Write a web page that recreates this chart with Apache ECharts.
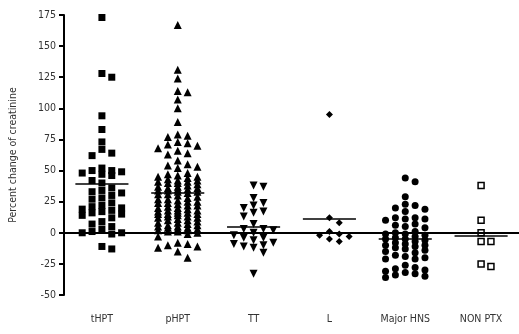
<!DOCTYPE html>
<html>
<head>
<meta charset="utf-8">
<script src="https://cdn.jsdelivr.net/npm/echarts@6/dist/echarts.min.js"></script>
<style>
html, body { margin: 0; background: #fff; }
#chart { width: 519px; height: 334px; }
</style>
</head>
<body>
<div id="chart"></div>
<script>
// group names along the bottom
const categories = ['tHPT', 'pHPT', 'TT', 'L', 'Major HNS', 'NON PTX'];

// percent change of creatinine, one value per patient
const tHPT = [173, 128, 125, 94, 83, 73, 67, 64, 62, 52, 50, 50, 49, 48, 47, 46, 42, 40, 36, 34,
  33, 32, 30, 28, 27, 24, 22, 21, 20, 19, 18, 17, 16, 15, 14, 12, 9, 7, 5, 3, 1, 0, 0, -1, -11, -13];
const pHPT = [167, 131, 124, 114, 113, 107, 100, 89, 79, 78, 77, 73, 72, 71, 70, 68, 66, 64, 63, 58,
  55, 54, 53, 52, 48, 47, 46, 45, 45, 44, 43, 42, 42, 41, 41, 40, 40, 39, 38, 37, 37, 36, 36, 35, 35,
  34, 34, 33, 33, 32, 31, 31, 30, 29, 28, 27, 27, 26, 25, 25, 24, 24, 23, 22, 22, 21, 20, 20, 19, 18,
  18, 18, 17, 16, 16, 15, 15, 15, 14, 13, 13, 12, 12, 11, 10, 10, 9, 8, 8, 7, 6, 6, 5, 5, 4, 4, 3, 3,
  2, 2, 1, 1, 0, -1, -3, -8, -9, -10, -11, -12, -15, -20];
const TT = [38, 37, 28, 24, 22, 20, 17, 16, 13, 7, 3, 3, 2, 0, -2, -4, -4, -6, -8, -9, -10, -11, -12, -16, -33];
const L = [95, 12, 8, 1, -1, -2, -3, -5, -7];
const majorHNS = [44, 41, 29, 23, 22, 20, 19, 17, 12, 12, 11, 11, 10, 7, 6, 5, 4, 1, 0, -1, -1, -2, -3,
  -4, -5, -5, -6, -7, -8, -9, -10, -10, -11, -12, -13, -14, -15, -16, -18, -19, -20, -21, -21, -26, -28,
  -29, -30, -31, -32, -33, -34, -35, -36];
const nonPTX = [38, 10, 0, -7, -7, -27, -25];

// group means (horizontal bars)
const groupMeans = [39.5, 32.5, 4.5, 11.5, -5.2, -2.6];

const groups = [tHPT, pHPT, TT, L, majorHNS, nonPTX];

// spread points sideways into columns so close values don't sit on top of each other
function dodge(values, gap, maxCol) {
  const order = [0, 1, -1, 2, -2, 3, -3].filter(c => Math.abs(c) <= maxCol);
  const last = {};
  return values.slice().sort((a, b) => b - a).map(v => {
    let pick = null, fallback = order[0], best = -Infinity;
    for (const c of order) {
      const d = last[c] === undefined ? Infinity : last[c] - v;
      if (d >= gap) { pick = c; break; }
      if (d > best) { best = d; fallback = c; }
    }
    if (pick === null) pick = fallback;
    last[pick] = v;
    return [pick, v];
  });
}

const colStep = 0.13;
const symbols = [
  { symbol: 'rect', size: 7, rotate: 0, fill: '#000' },
  { symbol: 'triangle', size: 8, rotate: 0, fill: '#000' },
  { symbol: 'triangle', size: 8, rotate: 180, fill: '#000' },
  { symbol: 'diamond', size: 7, rotate: 0, fill: '#000' },
  { symbol: 'circle', size: 7, rotate: 0, fill: '#000' },
  { symbol: 'rect', size: 6, rotate: 0, fill: '#fff' }
];

const series = groups.map((vals, i) => {
  const pts = dodge(vals, 6, 2).map(([c, v]) => [i + c * colStep, v]);
  const s = symbols[i];
  const markData = [[
    { coord: [i - 0.35, groupMeans[i]] },
    { coord: [i + 0.35, groupMeans[i]] }
  ]];
  if (i === 0) markData.push({ yAxis: 0, lineStyle: { width: 2 } });
  return {
    name: categories[i],
    type: 'scatter',
    data: pts,
    symbol: s.symbol,
    symbolSize: s.size,
    symbolRotate: s.rotate,
    itemStyle: { color: s.fill, borderColor: '#000', borderWidth: s.fill === '#fff' ? 1.5 : 0, opacity: 1 },
    markLine: {
      silent: true,
      symbol: 'none',
      animation: false,
      label: { show: false },
      lineStyle: { color: '#000', width: 1.5, type: 'solid' },
      data: markData
    }
  };
});

const font = "'Liberation Sans Narrow', 'DejaVu Sans Condensed', sans-serif";
const chart = echarts.init(document.getElementById('chart'));
chart.setOption({
  animation: false,
  backgroundColor: '#fff',
  grid: { left: 58, right: 0, top: 15, bottom: 39 },
  xAxis: [
    {
      type: 'value', min: -0.5, max: 5.5,
      axisLine: { show: false }, axisTick: { show: false },
      axisLabel: { show: false }, splitLine: { show: false }
    },
    {
      type: 'category', data: categories, position: 'bottom',
      axisLine: { show: false }, axisTick: { show: false },
      axisLabel: { color: '#333', fontSize: 10.5, fontFamily: font, margin: 19 },
      splitLine: { show: false }
    }
  ],
  yAxis: {
    type: 'value', min: -50, max: 175, interval: 25,
    name: 'Percent change of creatinine',
    nameLocation: 'middle', nameRotate: 90, nameGap: 45,
    nameTextStyle: { color: '#333', fontSize: 10.5, fontFamily: font },
    axisLine: { show: true, onZero: false, lineStyle: { color: '#000', width: 2 } },
    axisTick: { show: true, length: 5, lineStyle: { color: '#000', width: 2 } },
    axisLabel: { color: '#333', fontSize: 10.5, fontFamily: font, margin: 8 },
    splitLine: { show: false }
  },
  series: series
});
</script>
</body>
</html>
